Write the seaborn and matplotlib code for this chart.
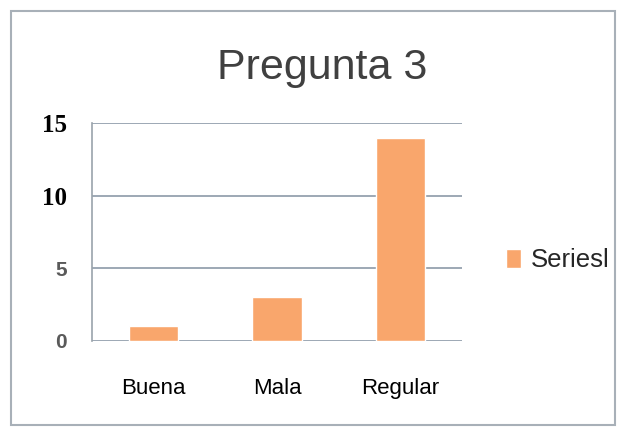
import pandas as pd
import matplotlib.pyplot as plt
import seaborn as sns
from matplotlib.patches import Rectangle

sns.set_theme(style="white")
plt.rcParams["font.family"] = ["Liberation Sans", "DejaVu Sans"]

categories = ["Buena", "Mala", "Regular"]
values = [1, 3, 14]
series_name = "Seriesl"
yticks = [0, 5, 10, 15]

df = pd.DataFrame({"categoria": categories, "valor": values, "serie": series_name})

fig = plt.figure(figsize=(6.19, 4.28), dpi=100)
fig.patch.set_facecolor("white")
fig.patches.append(Rectangle((0.018, 0.007), 0.975, 0.968, transform=fig.transFigure,
                             fill=False, edgecolor="#a8b0b8", linewidth=1.5))

ax = fig.add_axes([0.1486, 0.2033, 0.598, 0.5093])
sns.barplot(data=df, x="categoria", y="valor", hue="serie", palette=["#f9a66c"],
            width=0.4, ax=ax, saturation=1)

ax.set_ylim(0, 15)
ax.set_xlim(-0.5, 2.5)
ax.set_yticks(yticks)
ax.yaxis.grid(True, color="#8c9aa8", linewidth=1.2)
ax.set_axisbelow(True)
for s in ["top", "right", "bottom"]:
    ax.spines[s].set_visible(False)
ax.spines["left"].set_color("#9aa3ab")
ax.spines["left"].set_linewidth(1.2)
ax.set_xlabel("")
ax.set_ylabel("")
ax.tick_params(axis="x", length=0, pad=27, labelsize=16, labelcolor="black")
ax.tick_params(axis="y", length=0, pad=18)

# tick labels: 15 and 10 bold serif, 5 and 0 grey sans (as in the picture)
for lbl, v in zip(ax.get_yticklabels(), yticks):
    if v >= 10:
        lbl.set_fontfamily("Liberation Serif")
        lbl.set_fontweight("bold")
        lbl.set_fontsize(18)
        lbl.set_color("black")
    else:
        lbl.set_fontsize(15)
        lbl.set_color("#5a5a5a")
        lbl.set_fontweight("bold")

fig.text(0.52, 0.84, "Pregunta 3", ha="center", va="center", fontsize=31, color="#404040")

leg = ax.legend(loc="center left", bbox_to_anchor=(1.055, 0.37), frameon=False,
                fontsize=18.5, handlelength=0.6, handleheight=0.75, handletextpad=0.4)

fig.savefig("out.png", dpi=100)
